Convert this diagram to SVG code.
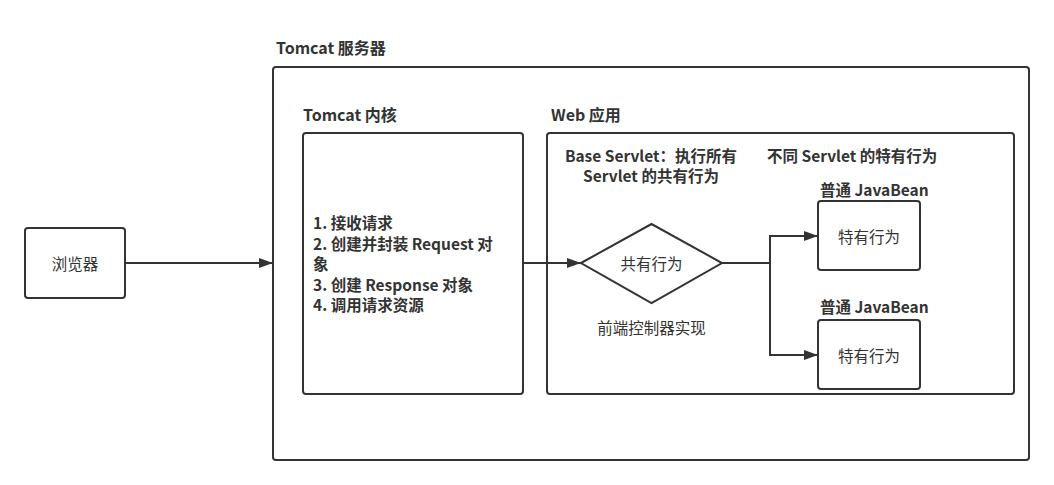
<svg xmlns="http://www.w3.org/2000/svg" width="1054" height="485" viewBox="0 0 1054 485">
<defs>
<style>
text{font-family:"Noto Sans CJK SC","Microsoft YaHei",sans-serif;font-size:15.5px;fill:#333;dominant-baseline:central}
.b{font-weight:bold;font-size:16px}
.m{font-weight:600}
.box{fill:#fff;stroke:#333;stroke-width:2}
.ln{fill:none;stroke:#333;stroke-width:2}
</style>
<marker id="a" viewBox="0 0 14 10" markerWidth="14" markerHeight="10" refX="14" refY="5" orient="auto" markerUnits="userSpaceOnUse">
<path d="M0,0 L14,5 L0,10 Z" fill="#333"/>
</marker>
</defs>
<g id="server">
<rect class="box" x="273" y="67" width="756" height="393" rx="3"/>
<text class="b" x="276" y="47">Tomcat 服务器</text>
</g>
<g id="browser">
<rect class="box" x="25" y="228" width="100" height="70" rx="3"/>
<text x="75" y="263" text-anchor="middle">浏览器</text>
</g>
<g id="kernel">
<rect class="box" x="303" y="133" width="220" height="261" rx="3"/>
<text class="b" x="303" y="114">Tomcat 内核</text>
<text class="m" x="313" y="222">1. 接收请求</text>
<text class="m" x="313" y="243">2. 创建并封装 Request 对</text>
<text class="m" x="313" y="263">象</text>
<text class="m" x="313" y="284">3. 创建 Response 对象</text>
<text class="m" x="313" y="304">4. 调用请求资源</text>
</g>
<g id="webapp">
<rect class="box" x="547" y="133" width="467" height="261" rx="3"/>
<text class="b" x="551" y="114">Web 应用</text>
<text class="m" x="651" y="155" text-anchor="middle">Base Servlet：执行所有</text>
<text class="m" x="651" y="175" text-anchor="middle">Servlet 的共有行为</text>
<text class="m" x="767" y="155">不同 Servlet 的特有行为</text>
</g>
<g id="common">
<polygon class="box" points="581,263 651.5,224 722,263 651.5,303"/>
<text x="651.5" y="263" text-anchor="middle">共有行为</text>
<text x="651.5" y="327" text-anchor="middle">前端控制器实现</text>
</g>
<g id="bean1">
<rect class="box" x="818" y="201" width="102" height="69" rx="3"/>
<text class="m" x="820" y="189">普通 JavaBean</text>
<text x="869" y="236" text-anchor="middle">特有行为</text>
</g>
<g id="bean2">
<rect class="box" x="818" y="320" width="102" height="69" rx="3"/>
<text class="m" x="820" y="306">普通 JavaBean</text>
<text x="869" y="355" text-anchor="middle">特有行为</text>
</g>
<g id="connectors">
<line class="ln" x1="125" y1="263" x2="273" y2="263" marker-end="url(#a)"/>
<line class="ln" x1="523" y1="263" x2="581" y2="263" marker-end="url(#a)"/>
<polyline class="ln" points="722,263 770,263 770,236 818,236" marker-end="url(#a)"/>
<polyline class="ln" points="770,263 770,355 818,355" marker-end="url(#a)"/>
</g>
</svg>
